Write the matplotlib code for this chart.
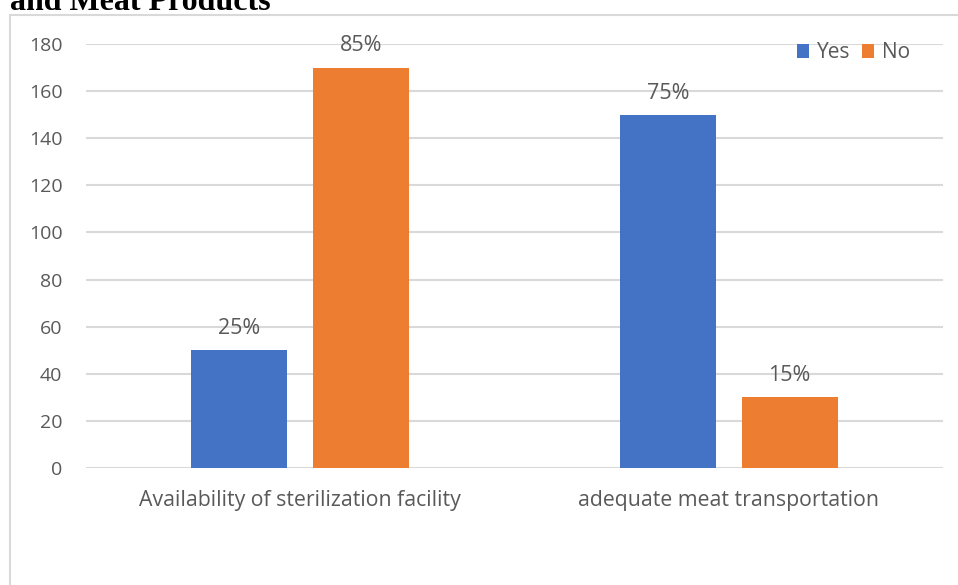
import matplotlib.pyplot as plt
import numpy as np
from matplotlib.patches import Rectangle

categories = ['Availability of sterilization facility', 'adequate meat transportation']
yes_vals = [50, 150]
no_vals = [170, 30]
yes_labels = ['25%', '75%']
no_labels = ['85%', '15%']

blue = '#4472C4'
orange = '#ED7D31'
grey_txt = '#595959'
grid_c = '#D9D9D9'

plt.rcParams['font.family'] = ['Open Sans', 'DejaVu Sans']

fig = plt.figure(figsize=(9.58, 5.85), dpi=100)
W, H = 958, 585

# heading runs off the top edge
fig.text(10 / W, 1 - 10 / H, 'and Meat Products', family='Liberation Serif',
         fontweight='bold', fontsize=23, ha='left', va='baseline', color='black')

# chart frame
fig.patches.append(Rectangle((10 / W, -0.05), 1.2, 1 - 15 / H + 0.05,
                             transform=fig.transFigure, fill=False,
                             edgecolor=grid_c, linewidth=1.5))

ax = fig.add_axes([86 / W, 1 - 468 / H, (943 - 86) / W, (468 - 44) / H])

x = np.arange(len(categories))
w = 0.224
off = 0.142
b1 = ax.bar(x - off, yes_vals, w, color=blue, label='Yes', zorder=3)
b2 = ax.bar(x + off, no_vals, w, color=orange, label='No', zorder=3)

for bars, labs in ((b1, yes_labels), (b2, no_labels)):
    for bar, lab in zip(bars, labs):
        ax.annotate(lab, (bar.get_x() + bar.get_width() / 2, bar.get_height()),
                    xytext=(0, 8), textcoords='offset points', ha='center',
                    va='bottom', fontsize=15.5, color=grey_txt)

ax.set_xlim(-0.5, 1.5)
ax.set_ylim(0, 180)
ax.set_yticks(range(0, 181, 20))
ax.set_xticks(x)
ax.set_xticklabels(categories, fontsize=15.3)
ax.tick_params(axis='both', length=0, labelcolor=grey_txt)
ax.tick_params(axis='y', pad=17, labelsize=14)
ax.tick_params(axis='x', pad=16)
ax.grid(axis='y', color=grid_c, linewidth=1.5, zorder=0)
for s in ax.spines.values():
    s.set_visible(False)

ax.legend(loc='upper right', bbox_to_anchor=(0.983, 1.048), ncol=2, frameon=False,
          fontsize=15, labelcolor=grey_txt, handlelength=0.6, handleheight=0.6,
          handletextpad=0.35, columnspacing=0.56)

fig.savefig('out.png', dpi=100)
